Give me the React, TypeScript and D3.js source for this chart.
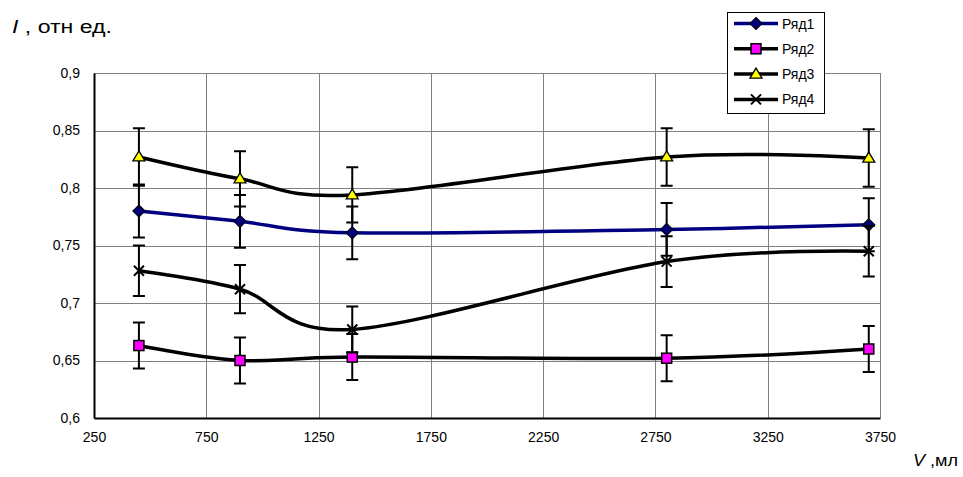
import * as d3 from "d3"
import React from "react"

const volumes = [450, 900, 1400, 2800, 3700]
const series1 = [0.780, 0.771, 0.761, 0.764, 0.768]
const series2 = [0.663, 0.650, 0.653, 0.652, 0.660]
const series3 = [0.827, 0.808, 0.794, 0.827, 0.826]
const series4 = [0.728, 0.712, 0.677, 0.736, 0.745]
const err1 = [0.023, 0.023, 0.023, 0.023, 0.023]
const err2 = [0.020, 0.020, 0.020, 0.020, 0.020]
const err3 = [0.025, 0.024, 0.024, 0.025, 0.025]
const err4 = [0.022, 0.021, 0.020, 0.022, 0.022]
const seriesNames = ["Ряд1", "Ряд2", "Ряд3", "Ряд4"]
const xTicks = [250, 750, 1250, 1750, 2250, 2750, 3250, 3750]
const yTicks = [0.6, 0.65, 0.7, 0.75, 0.8, 0.85, 0.9]

const width = 963
const height = 477
const font = "'Liberation Sans', Arial, sans-serif"

const drawMarker = (g: any, kind: string, x: number, y: number) => {
  if (kind === "diamond") {
    g.append("path")
      .attr("d", `M${x},${y - 6}L${x + 6},${y}L${x},${y + 6}L${x - 6},${y}Z`)
      .attr("fill", "#000080").attr("stroke", "#000").attr("stroke-width", 1.2)
  } else if (kind === "square") {
    g.append("rect")
      .attr("x", x - 5).attr("y", y - 5).attr("width", 10).attr("height", 10)
      .attr("fill", "#ff00ff").attr("stroke", "#000").attr("stroke-width", 1.5)
  } else if (kind === "triangle") {
    g.append("path")
      .attr("d", `M${x},${y - 6}L${x + 6},${y + 4}L${x - 6},${y + 4}Z`)
      .attr("fill", "#ffff00").attr("stroke", "#000").attr("stroke-width", 1.3)
  } else {
    g.append("path")
      .attr("d", `M${x - 5},${y - 5}L${x + 5},${y + 5}M${x - 5},${y + 5}L${x + 5},${y - 5}`)
      .attr("stroke", "#000").attr("stroke-width", 2)
  }
}

const createChart = (el: SVGSVGElement) => {
  const margin = { top: 73, right: 83, bottom: 59, left: 94 }
  const svg = d3.select(el)
  svg.selectAll("*").remove()

  const x = d3.scaleLinear([250, 3750], [margin.left, width - margin.right])
  const y = d3.scaleLinear([0.6, 0.9], [height - margin.bottom, margin.top])

  // grid
  const grid = svg.append("g").attr("stroke", "#808080").attr("stroke-width", 1)
  grid.selectAll("line.h").data(yTicks).join("line")
    .attr("x1", x(250)).attr("x2", x(3750))
    .attr("y1", (d: number) => Math.round(y(d)) + 0.5).attr("y2", (d: number) => Math.round(y(d)) + 0.5)
  grid.selectAll("line.v").data(xTicks).join("line")
    .attr("y1", y(0.9)).attr("y2", y(0.6))
    .attr("x1", (d: number) => Math.round(x(d)) + 0.5).attr("x2", (d: number) => Math.round(x(d)) + 0.5)

  // axes
  svg.append("g")
    .attr("transform", `translate(${x(250)},0)`)
    .call(d3.axisLeft(y).tickValues(yTicks).tickSize(0).tickPadding(14)
      .tickFormat((d: any) => String(d).replace(".", ",")))
    .call((g: any) => g.select(".domain").attr("stroke", "#000").attr("stroke-width", 2))
    .call((g: any) => g.selectAll("text").attr("font-size", 14).attr("font-family", font).attr("fill", "#000"))

  svg.append("g")
    .attr("transform", `translate(0,${y(0.6)})`)
    .call(d3.axisBottom(x).tickValues(xTicks).tickSize(0).tickPadding(14)
      .tickFormat((d: any) => String(d)))
    .call((g: any) => g.select(".domain").attr("stroke", "#000").attr("stroke-width", 2))
    .call((g: any) => g.selectAll("text").attr("font-size", 14).attr("font-family", font).attr("fill", "#000"))

  const all = [
    { name: seriesNames[0], values: series1, err: err1, color: "#000080", marker: "diamond" },
    { name: seriesNames[1], values: series2, err: err2, color: "#000", marker: "square" },
    { name: seriesNames[2], values: series3, err: err3, color: "#000", marker: "triangle" },
    { name: seriesNames[3], values: series4, err: err4, color: "#000", marker: "cross" },
  ]

  const line = d3.line<number>()
    .x((_d: number, i: number) => x(volumes[i]))
    .y((d: number) => y(d))
    .curve(d3.curveCardinal.tension(0))

  all.forEach((s) => {
    const g = svg.append("g")
    g.append("path")
      .attr("d", line(s.values))
      .attr("fill", "none")
      .attr("stroke", s.color)
      .attr("stroke-width", 3.5)
    s.values.forEach((v, i) => {
      const cx = x(volumes[i])
      const top = y(v + s.err[i])
      const bot = y(v - s.err[i])
      g.append("path")
        .attr("d", `M${cx},${top}V${bot}M${cx - 6},${top}H${cx + 6}M${cx - 6},${bot}H${cx + 6}`)
        .attr("stroke", "#000").attr("stroke-width", 2).attr("fill", "none")
    })
    s.values.forEach((v, i) => drawMarker(g, s.marker, x(volumes[i]), y(v)))
  })

  // legend
  const lg = svg.append("g").attr("transform", "translate(727,12)")
  lg.append("rect").attr("x", 0.5).attr("y", 0.5).attr("width", 97).attr("height", 101)
    .attr("fill", "#fff").attr("stroke", "#000").attr("stroke-width", 1)
  all.forEach((s, i) => {
    const ly = 11.5 + i * 25.3
    lg.append("line").attr("x1", 7).attr("x2", 51).attr("y1", ly).attr("y2", ly)
      .attr("stroke", s.color).attr("stroke-width", 3.5)
    drawMarker(lg, s.marker, 29, ly)
    lg.append("text").attr("x", 55).attr("y", ly + 5)
      .attr("font-size", 14).attr("font-family", font).text(s.name)
  })

  // axis titles
  const yt = svg.append("text").attr("x", 12).attr("y", 33)
    .attr("font-size", 18).attr("font-family", font)
    .attr("textLength", 100).attr("lengthAdjust", "spacingAndGlyphs")
  yt.append("tspan").attr("font-style", "italic").text("I")
  yt.append("tspan").text(" , отн ед.")

  const xt = svg.append("text").attr("x", 913).attr("y", 466)
    .attr("font-size", 17).attr("font-family", font)
    .attr("textLength", 45).attr("lengthAdjust", "spacingAndGlyphs")
  xt.append("tspan").attr("font-style", "italic").text("V")
  xt.append("tspan").text(" ,мл")
}

const App = () => {
  const ref = React.useRef<SVGSVGElement>(null)
  React.useEffect(() => {
    if (ref.current) createChart(ref.current)
  }, [])
  return (
    <svg ref={ref} width={width} height={height}
      style={{ position: "absolute", left: 0, top: 0, background: "#fff" }} />
  )
}

export default App
